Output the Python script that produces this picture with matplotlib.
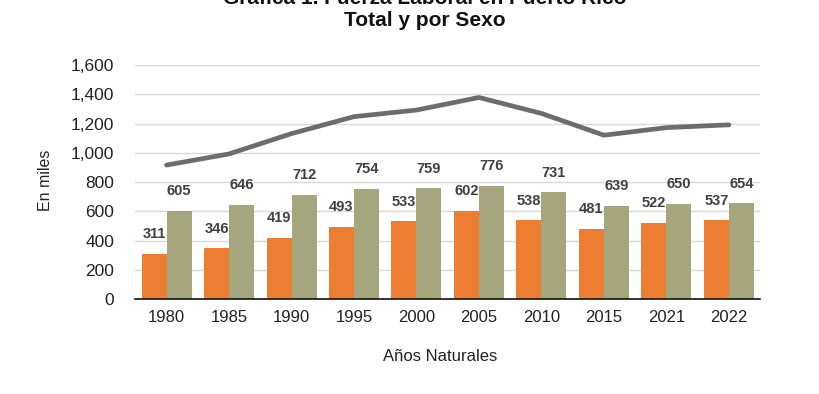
import numpy as np
import matplotlib
matplotlib.use("Agg")
import matplotlib.pyplot as plt

plt.rcParams['font.family'] = ['Liberation Sans', 'DejaVu Sans']

years = ['1980', '1985', '1990', '1995', '2000', '2005', '2010', '2015', '2021', '2022']
mujeres = [311, 346, 419, 493, 533, 602, 538, 481, 522, 537]
hombres = [605, 646, 712, 754, 759, 776, 731, 639, 650, 654]
total = [916, 992, 1131, 1247, 1292, 1378, 1269, 1120, 1172, 1191]

fig = plt.figure(figsize=(8.2, 3.94), dpi=100)
ax = fig.add_axes([0.165, 0.241, 0.762, 0.594])

x = np.arange(len(years))
w = 0.4
b1 = ax.bar(x - w / 2, mujeres, w, color='#ED7D31', zorder=2)
b2 = ax.bar(x + w / 2, hombres, w, color='#A5A57E', zorder=2)
ax.plot(x, total, color='#6F6B6B', lw=3.4, solid_capstyle='round', zorder=3)

for bars in (b1, b2):
    ax.bar_label(bars, padding=9, fontsize=10.5, fontweight='bold', color='#404040')

ax.set_xlim(-0.5, len(years) - 0.5)
ax.set_ylim(0, 1600)
ax.set_yticks(range(0, 1601, 200))
ax.yaxis.set_major_formatter(matplotlib.ticker.StrMethodFormatter('{x:,.0f}'))
ax.set_xticks(x)
ax.set_xticklabels(years)
ax.tick_params(length=0, labelsize=12, colors='#222222', pad=8)
ax.tick_params(axis='y', labelsize=12.5, pad=15)
ax.grid(axis='y', color='#D9D9D9', lw=1, zorder=0)
for s in ['top', 'right', 'left']:
    ax.spines[s].set_visible(False)
ax.spines['bottom'].set_color('#111111')
ax.spines['bottom'].set_linewidth(1.2)

# the first title line is cropped at the top edge, as in the source image
fig.text(0.518, 1.004, 'Gráfica 1. Fuerza Laboral en Puerto Rico', ha='center', va='center',
         fontsize=15, fontweight='bold', color='#111111')
fig.text(0.518, 0.947, 'Total y por Sexo', ha='center', va='center',
         fontsize=15, fontweight='bold', color='#111111')
fig.text(0.055, 0.543, 'En miles', rotation=90, ha='center', va='center', fontsize=11.5, color='#222222')
fig.text(0.537, 0.094, 'Años Naturales', ha='center', va='center', fontsize=12, color='#222222')

fig.savefig('out.png', dpi=100)
